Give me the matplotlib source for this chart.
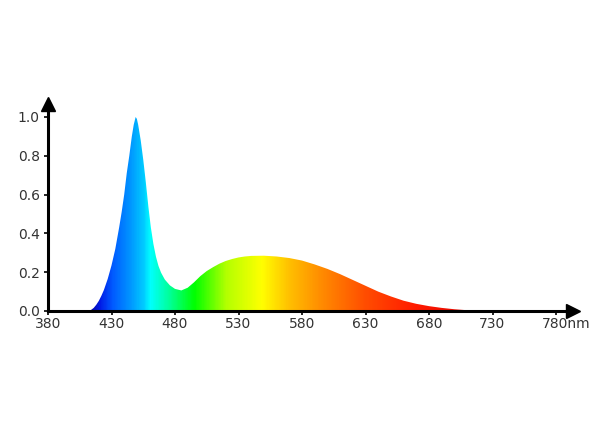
import numpy as np
import matplotlib
matplotlib.use("Agg")
import matplotlib.pyplot as plt
from matplotlib.colors import LinearSegmentedColormap
from matplotlib.transforms import ScaledTranslation

plt.rcParams["font.family"] = ["DejaVu Sans"]

# spectrum (wavelength nm, relative intensity)
wavelength = [412, 414, 416, 418, 420, 422, 424, 427, 430, 433, 436, 438, 440,
              442, 444, 446, 447.5, 449, 450, 451, 453, 455, 457, 459, 461,
              463, 465, 467, 469, 472, 476, 480, 485, 490, 495, 500, 505, 510,
              515, 520, 525, 530, 535, 540, 550, 560, 570, 580, 590, 600, 610,
              620, 630, 640, 650, 660, 670, 680, 690, 700, 710, 720, 730]
intensity = [0.0, 0.006, 0.016, 0.032, 0.052, 0.078, 0.108, 0.165, 0.235, 0.32,
             0.43, 0.51, 0.6, 0.71, 0.8, 0.9, 0.96, 1.0, 0.99, 0.96, 0.88,
             0.78, 0.665, 0.54, 0.43, 0.345, 0.28, 0.232, 0.198, 0.162, 0.132,
             0.114, 0.106, 0.12, 0.148, 0.18, 0.206, 0.226, 0.244, 0.258,
             0.268, 0.276, 0.281, 0.284, 0.285, 0.281, 0.273, 0.26, 0.24,
             0.217, 0.19, 0.16, 0.13, 0.1, 0.075, 0.053, 0.037, 0.025, 0.016,
             0.009, 0.004, 0.0015, 0.0]

xticks = [380, 430, 480, 530, 580, 630, 680, 730, 780]
yticks = [0.0, 0.2, 0.4, 0.6, 0.8, 1.0]

# colour stops along the wavelength axis
stop_nm = [410, 420, 430, 445, 455, 460, 475, 495, 520, 548, 570, 595, 630, 670, 730]
stop_col = ["#0d008c", "#001ae6", "#0059ff", "#0099ff", "#00ccff", "#00ffff",
            "#00ff99", "#00ff00", "#b3ff00", "#ffff00", "#ffbf00", "#ff8c00",
            "#ff4d00", "#ff1a00", "#d90000"]

lo, hi = stop_nm[0], stop_nm[-1]
cmap = LinearSegmentedColormap.from_list(
    "spec", [((n - lo) / (hi - lo), c) for n, c in zip(stop_nm, stop_col)])

fig = plt.figure(figsize=(6.02, 4.22), dpi=100)
ax = fig.add_axes([48 / 602, 111 / 422, 525 / 602, 207 / 422])
ax.set_xlim(380, 380 + 525 / 1.27)
ax.set_ylim(0, 207 / 194)

grad = np.linspace(0, 1, 600).reshape(1, -1)
img = ax.imshow(grad, cmap=cmap, aspect="auto", extent=[lo, hi, 0, 1.0],
                origin="lower", zorder=1)
poly = ax.fill_between(wavelength, intensity, 0, color="none", lw=0)
path = poly.get_paths()[0]
img.set_clip_path(path, ax.transData)

for s in ["top", "right"]:
    ax.spines[s].set_visible(False)
for s in ["left", "bottom"]:
    ax.spines[s].set_linewidth(2.2)
    ax.spines[s].set_zorder(3)
ax.plot(1, 0, ">k", ms=10, transform=ax.transAxes, clip_on=False)
ax.plot(0, 1, "^k", ms=10, transform=ax.transAxes, clip_on=False)

ax.set_xticks(xticks)
ax.set_xticklabels([str(t) for t in xticks[:-1]] + ["780nm"])
ax.set_yticks(yticks)
ax.set_yticklabels([f"{t:.1f}" for t in yticks])
ax.tick_params(axis="both", length=3, width=1.2, color="black",
               labelsize=10, labelcolor="#333333", pad=3)
ax.tick_params(axis="x", pad=1)
lab = ax.get_xticklabels()[-1]
lab.set_transform(lab.get_transform() + ScaledTranslation(10 / 100, 0, fig.dpi_scale_trans))

fig.savefig("out.png", dpi=100)
